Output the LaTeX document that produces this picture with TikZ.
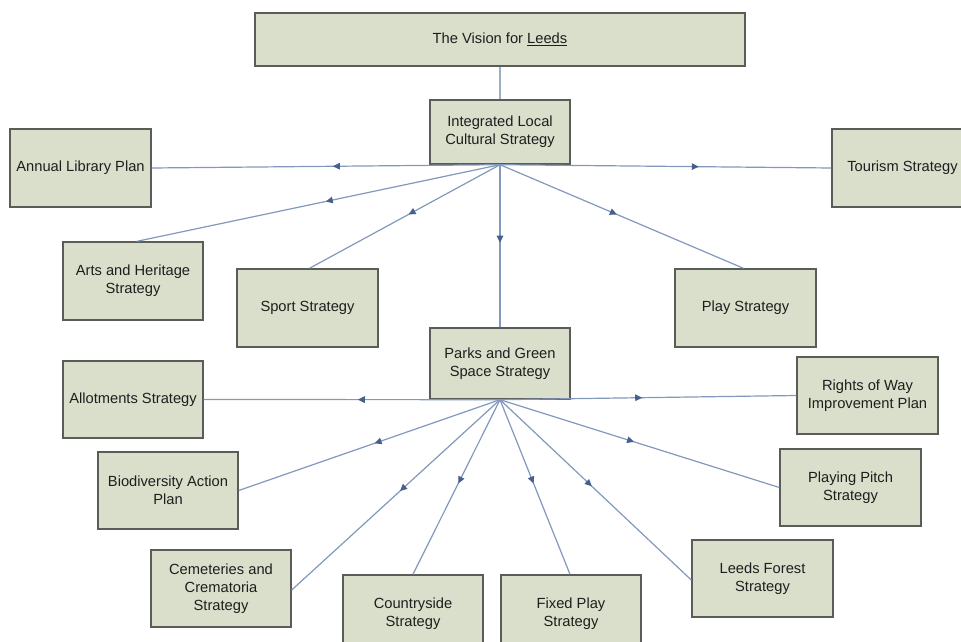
\documentclass[tikz,border=0pt]{standalone}
\usepackage{fontspec}
\setmainfont{Liberation Sans}
\usetikzlibrary{arrows.meta,decorations.markings}
\definecolor{boxfill}{RGB}{218,223,203}
\definecolor{boxline}{RGB}{90,92,88}
\definecolor{linec}{RGB}{130,152,188}
\definecolor{tipc}{RGB}{70,95,140}
\definecolor{txt}{RGB}{30,30,30}
\tikzset{
  box/.style={draw=boxline, fill=boxfill, line width=1.4pt, align=center, inner sep=0pt,
    text=txt, font=\fontsize{14.7}{18}\selectfont, minimum width=141pt, minimum height=78pt},
  flow/.style={draw=linec, line width=1.2pt, postaction={decorate},
    decoration={markings, mark=at position #1 with {\arrow[tipc]{Triangle[length=7pt,width=6.5pt]}}}},
  flow/.default=0.48,
  plain/.style={draw=linec!80, line width=1.4pt}
}
\begin{document}
\begin{tikzpicture}[x=1pt,y=-1pt]
\useasboundingbox (0,0) rectangle (961,642);
\clip (0,0) rectangle (961,642);
\fill[white] (0,0) rectangle (961,642);
% boxes
\node[box, minimum width=490pt, minimum height=53pt] (vision) at (500,39.5) {The Vision for \underline{Leeds}};
\node[box, minimum width=140pt, minimum height=64pt] (ilcs) at (500,132) {Integrated Local\\Cultural Strategy};
\node[box] (library) at (80.5,168) {Annual Library Plan};
\node[box, minimum width=141pt] (tourism) at (902.5,168) {Tourism Strategy};
\node[box, minimum width=140pt] (arts) at (133,281) {Arts and Heritage\\Strategy};
\node[box] (sport) at (307.5,308) {Sport Strategy};
\node[box] (play) at (745.5,308) {Play Strategy};
\node[box, minimum width=140pt, minimum height=71pt] (parks) at (500,363.5) {Parks and Green\\Space Strategy};
\node[box, minimum width=140pt, minimum height=77pt] (allot) at (133,399.5) {Allotments Strategy};
\node[box, minimum width=140pt, minimum height=77pt] (biod) at (168,490.5) {Biodiversity Action\\Plan};
\node[box, minimum width=140pt, minimum height=77pt] (cem) at (221,588.5) {Cemeteries and\\Crematoria\\Strategy};
\node[box, minimum width=140pt] (country) at (413,614) {Countryside\\Strategy};
\node[box, minimum width=140pt] (fixed) at (571,614) {Fixed Play\\Strategy};
\node[box, minimum height=77pt] (forest) at (762.5,578.5) {Leeds Forest\\Strategy};
\node[box, minimum height=77pt] (pitch) at (850.5,487.5) {Playing Pitch\\Strategy};
\node[box, minimum height=77pt] (rights) at (867.5,395.5) {Rights of Way\\Improvement Plan};
% connectors
\draw[plain] (vision.south) -- (ilcs.north);
\draw[flow] (ilcs.south) -- (library.east);
\draw[flow=0.6] (ilcs.south) -- (tourism.west);
\draw[flow] (ilcs.south) -- ([xshift=4pt]arts.north);
\draw[flow] (ilcs.south) -- ([xshift=2pt]sport.north);
\draw[flow] (ilcs.south) -- ([xshift=-2pt]play.north);
\draw[flow] (ilcs.south) -- (parks.north);
\draw[flow] (parks.south) -- (allot.east);
\draw[flow] (parks.south) -- (rights.west);
\draw[flow] (parks.south) -- (biod.east);
\draw[flow] (parks.south) -- ([yshift=-1.5pt]cem.east);
\draw[flow] (parks.south) -- (country.north);
\draw[flow] (parks.south) -- ([xshift=-1pt]fixed.north);
\draw[flow] (parks.south) -- ([yshift=-1.5pt]forest.west);
\draw[flow] (parks.south) -- (pitch.west);
\end{tikzpicture}
\end{document}
